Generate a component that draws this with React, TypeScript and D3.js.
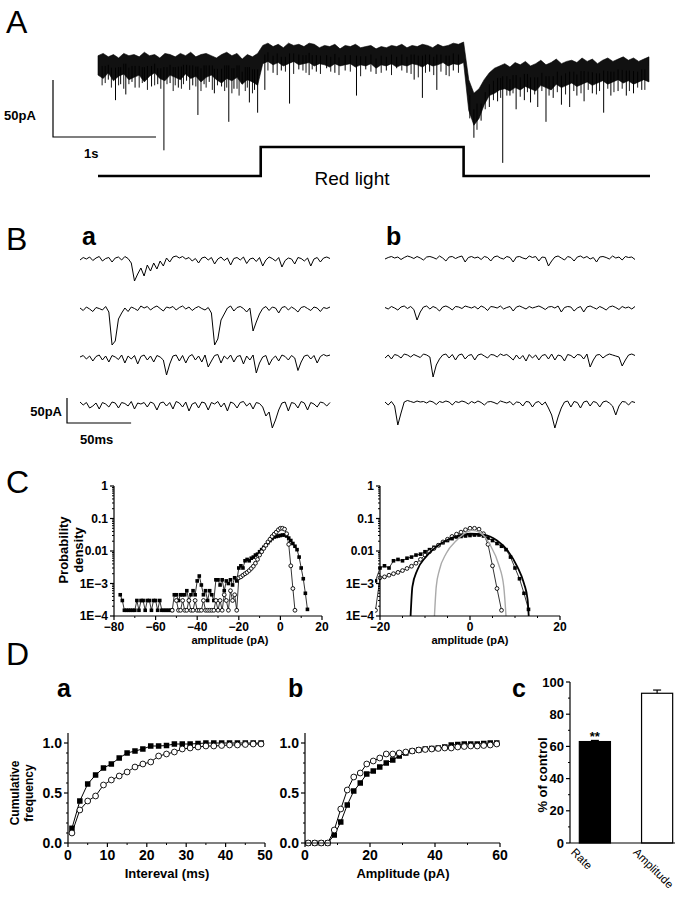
import React from 'react';
import * as d3 from 'd3';

const FONT = "'Liberation Sans', Arial, Helvetica, sans-serif";

// ---------- A: continuous recording, envelope every 50 ms (pA) ----------
const A_DT = 0.05;
const A_END = 5.36;
const aTop = [
  -5, -3, -6, -4, -7, -3, -5, -4, -6, -2, -5, -4, -7, -3, -4, -6, -3, -5, -2, -6, -4, -3, -5, -7, -4, -2, -5, -3, -8, -4, -6, -3,
  4, 6, 3, 5, 2, 6, 4, 5, 3, 6, 5, 2, 4, 3, 5, 1, 4, 3, 5, 2, 3, 4, 1, 3, 2, 4, 3, 5, 2, 4, 3, 5, 4, 2, 5, 3, 4, 6, 5, 7,
  -26, -38, -34, -26, -20, -16, -14, -12, -15, -11, -13, -10, -14, -12, -9, -13, -11, -8, -12, -10, -9, -11, -7, -10, -8, -12, -9, -7, -10, -8, -6, -9, -7, -10, -8, -6,
];
const aBottom = [
  -22, -25, -20, -27, -23, -21, -26, -24, -22, -28, -23, -20, -25, -27, -22, -24, -26, -21, -25, -23, -28, -24, -22, -26, -29, -25, -27, -24, -30, -26, -28, -31,
  -12, -10, -13, -11, -14, -12, -10, -13, -12, -11, -14, -12, -13, -15, -12, -14, -13, -12, -15, -13, -14, -12, -16, -13, -14, -12, -15, -13, -14, -12, -13, -15, -12, -14, -13, -11, -14, -12, -13, -11,
  -53, -66, -60, -48, -40, -38, -35, -34, -36, -33, -35, -32, -34, -36, -31, -33, -35, -30, -33, -31, -29, -32, -30, -28, -31, -29, -27, -30, -28, -26, -29, -27, -30, -28, -26, -28,
];
// large events [time s, peak pA]
const aSpikes: [number, number][] = [
  [0.10, -26], [0.17, -44], [0.22, -30], [0.27, -39], [0.33, -28], [0.36, -33], [0.45, -27], [0.52, -32], [0.58, -30], [0.64, -88],
  [0.70, -29], [0.78, -33], [0.86, -27], [0.92, -31], [0.97, -57], [1.03, -30], [1.08, -28], [1.13, -38], [1.20, -32], [1.27, -63],
  [1.32, -34], [1.40, -30], [1.47, -46], [1.52, -35], [1.55, -55],
  [1.62, -35], [1.70, -20], [1.78, -18], [1.86, -47], [1.95, -17], [2.05, -22], [2.12, -19], [2.22, -16], [2.30, -20], [2.40, -18],
  [2.51, -40], [2.60, -17], [2.70, -21], [2.80, -18], [2.90, -16], [3.00, -20], [3.07, -26], [3.15, -42], [3.22, -19], [3.29, -35],
  [3.38, -22], [3.45, -18],
  [3.65, -77], [3.72, -62], [3.80, -50], [3.88, -45], [3.93, -99], [4.00, -40], [4.06, -52], [4.14, -44], [4.20, -46], [4.27, -50],
  [4.35, -63], [4.42, -42], [4.50, -48], [4.58, -50], [4.65, -40], [4.72, -45], [4.80, -38], [4.91, -55], [4.98, -40], [5.05, -36],
  [5.13, -40], [5.20, -38], [5.28, -35],
];
// small events that make the ragged lower edge
const aSmall: [number, number][] = [
  [0.04, -31], [0.07, -29], [0.13, -33], [0.20, -31], [0.25, -34], [0.30, -30], [0.40, -33], [0.43, -29], [0.48, -35], [0.55, -31],
  [0.61, -34], [0.67, -30], [0.73, -36], [0.75, -31], [0.81, -34], [0.83, -30], [0.89, -35], [0.95, -32], [1.00, -36], [1.05, -33],
  [1.11, -35], [1.16, -31], [1.23, -36], [1.25, -33], [1.30, -38], [1.35, -34], [1.37, -40], [1.43, -36], [1.45, -33], [1.50, -38],
  [1.65, -18], [1.74, -22], [1.82, -19], [1.90, -21], [1.99, -18], [2.02, -20], [2.08, -17], [2.16, -21], [2.26, -19], [2.34, -22],
  [2.45, -19], [2.55, -23], [2.65, -19], [2.75, -20], [2.85, -22], [2.95, -18], [3.04, -21], [3.11, -24], [3.18, -20], [3.26, -22],
  [3.33, -19], [3.41, -23], [3.50, -20],
  [3.61, -60], [3.68, -70], [3.76, -52], [3.84, -44], [3.91, -42], [3.97, -40], [4.03, -38], [4.10, -41], [4.17, -37], [4.24, -39],
  [4.31, -36], [4.38, -40], [4.46, -37], [4.54, -39], [4.62, -36], [4.69, -38], [4.76, -35], [4.84, -39], [4.87, -36], [4.95, -34],
  [5.01, -37], [5.09, -34], [5.16, -36], [5.24, -33], [5.31, -35],
];
const stimulus: [number, number][] = [[0, 0], [1.58, 0], [1.58, 1], [3.55, 1], [3.55, 0], [A_END, 0]];

// ---------- B: sweeps, one sample every 2.5 ms (pA) ----------
const B_DT = 2.5;
const sweepsA = [
  [-2, 3, 0, 4, -3, 2, 5, -4, 1, 3, -6, 2, 4, -2, 5, 1, -8, -44, -30, -18, -34, -12, -24, -8, -20, -4, -14, 2, -6, 4,
    6, 2, 5, 0, 3, -4, 1, -8, 2, 4, -2, 3, -10, 0, 4, -3, 2, -12, 1, 3, -2, 4, -9, 0, 2, -5, 3, -14, -2, 4, 1, -4, 3, -16,
    -3, 2, 0, -10, 3, 1, -4, 2, -14, 0, 3, -6, 2, 4, 1],
  [2, -3, 4, 0, -5, 3, 1, -2, 5, -6, -72, -64, -20, -8, 2, -5, 4, 1, -3, 6, 2, 5, -2, 3, 6, 1, -4, 4, 2, 5,
    -2, 3, 6, 0, 4, -3, 2, 5, 1, -2, 3, -8, -72, -60, -22, -10, 2, 6, -4, 3, 5, 1, -6, 2, -44, -26, -10, 1, 5, -3,
    4, 2, -8, 3, 5, -2, 4, 0, -6, 3, 5, 1, -3, 4, 2, -5, 3, 1, 4],
  [0, 3, -4, 2, -8, 1, 4, -6, 2, -10, 3, 0, -5, 4, -12, 2, -4, 3, -14, 1, 4, -6, 2, -10, 3, 0, -6, -36, -14, 2,
    4, -8, 3, -12, 1, 5, -6, 2, -10, 4, -20, -8, 3, 5, -12, 2, -4, 4, -10, 1, 3, -14, 2, -6, 4, -32, -12, 0, 3, -16,
    -4, 2, -8, 4, 1, -6, 3, -2, -27, -10, 2, 4, -4, 3, -12, 1, 5, 2, 4],
  [4, -2, 3, -8, -4, 2, -10, 3, 0, -6, 4, 2, -8, 3, 1, -4, 5, -10, 2, 0, 3, -6, 4, 1, -12, 2, 4, -4, 3, -10,
    5, 2, -6, 4, -14, 0, 3, -8, 4, 2, -12, 3, 0, 5, -6, 2, -14, 4, 1, -8, 3, 5, -4, 2, -10, 3, 1, -6, -24, -16,
    -48, -32, -12, 2, 4, -14, 3, 1, -8, 5, 2, -12, 3, 0, -6, 4, 2, -4, 3],
];
const sweepsB = [
  [-2, 1, 3, 0, 2, -3, 1, 4, 2, -1, 3, 0, -4, 2, 3, 1, -2, 4, 0, -6, 2, 3, -1, 2, 4, -8, 1, 3, 0, 2,
    -3, 3, 1, -6, 2, 4, 0, -2, 3, 1, -8, 2, 3, 0, -2, 4, 1, 3, -6, 2, 1, -16, -6, 2, 4, 0, -4, 3, 1, -6,
    2, 4, 0, 3, -2, 1, -8, 2, 3, 1, -2, 4, 0, 2, -4, 3, 1, 2, -3],
  [1, -2, 3, 0, -4, 2, 4, -1, 3, -3, -24, -8, 2, 4, -2, 3, 0, -6, 2, 4, 1, -4, 3, 2, -1, 4, 2, 0, 3, -2,
    4, 1, -5, 3, 2, 0, 4, -2, 1, 3, -6, 2, 4, 1, -2, 3, 0, 2, 4, 1, -3, 2, 3, 0, 4, -8, 1, 3, 2, -6,
    0, 3, -8, 2, 4, 1, -2, 3, 0, -4, 2, 4, 1, -3, 3, 0, 2, -2, 3],
  [-4, 2, -6, 3, 1, -4, 4, 2, -2, 3, 0, -3, 4, 2, -2, -42, -18, -6, 2, 4, -4, 3, -8, 2, 4, -6, 1, 3, -8, 2,
    4, 0, -4, 3, 2, -2, 4, 1, 3, -2, -8, 2, -6, 1, -10, 3, -4, 2, -8, 1, 3, -6, 4, -8, 2, 0, -10, 3, 1, -4,
    3, 2, -6, 4, -22, -8, 2, 3, -4, 1, 4, 2, 0, -2, -20, -8, 2, 4, 1],
  [2, -4, 3, -6, -44, -20, 2, 5, 3, 1, 4, 2, 3, 0, 4, 2, -3, 3, 1, 4, 2, -4, 3, 1, 4, 2, -2, 3, 0, 4,
    1, -4, 2, 3, 1, -2, 4, 2, 0, 3, -4, 2, 1, -6, 3, 2, -8, 1, 3, -4, 2, -10, -24, -50, -28, -10, 2, 4, -8, 3,
    1, -10, 2, 4, -6, 3, 1, -8, 2, 4, 0, -6, -24, -6, 3, 2, -4, 3, 1],
];

// ---------- C: amplitude histograms, 1 pA bins ----------
const sqStart = -77;
const sqDensity = [
  4.5e-4, 3e-4, 1.5e-4, 1.5e-4, 1.5e-4, 1.5e-4, 1.5e-4, 1.5e-4,
  3e-4, 1.5e-4, 3e-4, 3e-4, 1.5e-4, 3e-4, 3e-4, 1.5e-4, 3e-4, 3e-4,
  1.5e-4, 3e-4, 1.5e-4, 1.5e-4, 1.5e-4, 1.5e-4, 1.5e-4, 1.5e-4, 4.5e-4, 4.5e-4,
  3e-4, 4.5e-4, 4.5e-4, 4.5e-4, 6e-4, 3e-4, 4.5e-4, 6e-4, 4.5e-4, 1.2e-3,
  1.7e-3, 9e-4, 4.5e-4, 6e-4, 3e-4, 6e-4, 4.5e-4, 3e-4, 1.3e-3, 1.3e-3,
  9e-4, 1.3e-3, 6e-4, 1.2e-3, 1.0e-3, 1.3e-3, 9e-4, 1.5e-3, 1.2e-3, 3e-3,
  3.5e-3, 3e-3, 5e-3, 5.5e-3, 5e-3, 6e-3, 6.5e-3, 7.5e-3, 8e-3, 9.5e-3,
  0.011, 0.013, 0.015, 0.018, 0.021, 0.024, 0.027, 0.028, 0.029, 0.03,
  0.031, 0.031, 0.029, 0.025, 0.021, 0.017, 0.014, 0.011, 6.5e-3, 3e-3,
  1.4e-3, 5e-4, 1.6e-4,
];
const ciStart = -52;
const ciDensity: (number | null)[] = [
  1.5e-4, null, 3e-4, 1.5e-4, 1.5e-4, 3e-4, 1.5e-4, 1.5e-4, 3e-4, 1.5e-4,
  1.5e-4, 3e-4, 1.5e-4, 1.5e-4, 1.5e-4, 3e-4, 1.5e-4, 1.5e-4, 1.5e-4, 1.5e-4,
  1.5e-4, 3e-4, 1.5e-4, 3e-4, 1.5e-4, 4.5e-4, 3e-4, 1.5e-4, 6e-4, 3e-4,
  4.5e-4, 1.5e-4, 1.5e-3, 1.6e-3, 1.8e-3, 2e-3, 2.2e-3, 2.5e-3, 2.9e-3, 3.4e-3,
  4.2e-3, 5.5e-3, 7.5e-3, 9.5e-3, 0.012, 0.015, 0.019, 0.023, 0.028, 0.033,
  0.038, 0.045, 0.05, 0.05, 0.047, 0.034, 0.016, 3.5e-3, 7e-4, 1.5e-4,
];
const fitBlack: [number, number][] = [
  [-13.2, 1e-4], [-12.8, 8e-4], [-11.7, 2.6e-3], [-9.8, 6.6e-3], [-7.5, 0.0134], [-5.3, 0.021], [-2.3, 0.03], [0, 0.034],
  [3, 0.032], [6, 0.021], [8.3, 0.0106], [10.5, 3.3e-3], [12, 1e-3], [12.8, 3.2e-4], [13.05, 1e-4],
];
const fitGray: [number, number][] = [
  [-7.9, 1e-4], [-7.5, 8e-4], [-6.8, 2.6e-3], [-5.3, 8.4e-3], [-3, 0.021], [-0.75, 0.038], [0.4, 0.043], [2.3, 0.036],
  [4.5, 0.015], [6.4, 3.7e-3], [7.5, 8e-4], [8, 1e-4],
];

// ---------- D: cumulative distributions and summary ----------
const intervalMs = [1, 3, 5, 7, 9, 11, 13, 15, 17, 19, 21, 23, 25, 27, 29, 31, 33, 35, 37, 39, 41, 43, 45, 47, 49];
const intervalLight = [0.147, 0.42, 0.59, 0.68, 0.75, 0.79, 0.85, 0.9, 0.92, 0.94, 0.97, 0.97, 0.975, 0.99, 0.99, 0.99, 0.995, 1, 1, 1, 1, 1, 1, 1, 1];
const intervalCtrl = [0.1, 0.33, 0.42, 0.47, 0.58, 0.63, 0.67, 0.71, 0.76, 0.79, 0.81, 0.87, 0.89, 0.91, 0.94, 0.95, 0.96, 0.97, 0.97, 0.975, 0.98, 0.98, 0.985, 0.99, 0.99];
const ampPa = [1, 3, 5, 7, 9, 11, 13, 15, 17, 19, 21, 23, 25, 27, 29, 31, 33, 35, 37, 39, 41, 43, 45, 47, 49, 51, 53, 55, 57, 59];
const ampLight = [0, 0, 0, 0, 0.08, 0.21, 0.38, 0.52, 0.6, 0.69, 0.72, 0.76, 0.8, 0.83, 0.87, 0.9, 0.92, 0.93, 0.94, 0.945, 0.95, 0.96, 0.98, 0.985, 0.99, 0.99, 0.99, 0.995, 1, 1];
const ampCtrl = [0, 0, 0, 0, 0.13, 0.34, 0.53, 0.66, 0.7, 0.79, 0.82, 0.85, 0.89, 0.89, 0.9, 0.91, 0.92, 0.93, 0.935, 0.94, 0.945, 0.95, 0.95, 0.96, 0.965, 0.97, 0.97, 0.975, 0.98, 0.99];
const summaryCats = ['Rate', 'Amplitude'];
const summaryMean = [63, 93];
const summarySem = [0.7, 2];

const bold = { fontFamily: FONT, fontWeight: 700 } as const;

function Square({ x, y, s }: { x: number; y: number; s: number }) {
  return <rect x={x - s / 2} y={y - s / 2} width={s} height={s} fill="#000" />;
}
function Circle({ x, y, r }: { x: number; y: number; r: number }) {
  return <circle cx={x} cy={y} r={r} fill="#fff" stroke="#000" strokeWidth={0.9} />;
}

function YAxis({ x, y, top, bottom, ticks, labels, minor = [], size = 13, len = 4 }: any) {
  return (
    <g>
      <line x1={x} x2={x} y1={y(top)} y2={y(bottom)} stroke="#000" strokeWidth={1.2} />
      {minor.map((t: number, i: number) => (
        <line key={'m' + i} x1={x - 2} x2={x} y1={y(t)} y2={y(t)} stroke="#000" strokeWidth={1} />
      ))}
      {ticks.map((t: number, i: number) => (
        <g key={i}>
          <line x1={x - len} x2={x} y1={y(t)} y2={y(t)} stroke="#000" strokeWidth={1.2} />
          <text x={x - len - 2} y={y(t)} dy="0.36em" textAnchor="end" fontSize={size} {...bold}>{labels[i]}</text>
        </g>
      ))}
    </g>
  );
}

function XAxis({ y, x, left, right, ticks, labels, minor = [], size = 13, len = 4 }: any) {
  return (
    <g>
      <line x1={x(left)} x2={x(right)} y1={y} y2={y} stroke="#000" strokeWidth={1.2} />
      {minor.map((t: number, i: number) => (
        <line key={'m' + i} x1={x(t)} x2={x(t)} y1={y} y2={y + 2} stroke="#000" strokeWidth={1} />
      ))}
      {ticks.map((t: number, i: number) => (
        <g key={i}>
          <line x1={x(t)} x2={x(t)} y1={y} y2={y + len} stroke="#000" strokeWidth={1.2} />
          <text x={x(t)} y={y + len + size * 0.95} textAnchor="middle" fontSize={size} {...bold}>{labels[i]}</text>
        </g>
      ))}
    </g>
  );
}

export default function App() {
  // ----- A -----
  const xA = d3.scaleLinear().domain([0, A_END]).range([98, 650]);
  const yA = d3.scaleLinear().domain([0, -50]).range([50, 107]);
  const band = d3.area<number>()
    .x((_, i) => xA(i * A_DT))
    .y0((_, i) => yA(aBottom[i]))
    .y1((v) => yA(v));
  const mid = (t: number) => {
    const k = Math.min(aTop.length - 1, Math.round(t / A_DT));
    return yA((aTop[k] + aBottom[k]) / 2);
  };
  const yStim = d3.scaleLinear().domain([0, 1]).range([176, 147]);
  const stimLine = d3.line<[number, number]>().x((d) => xA(d[0])).y((d) => yStim(d[1]));
  const barBottom = 137;
  const barTop = barBottom - (yA(-50) - yA(0));

  // ----- B -----
  const xB = d3.scaleLinear().domain([0, 195]).range([0, 250]);
  const yB = d3.scaleLinear().domain([0, -50]).range([0, 25]);
  const rowBase = [259, 309, 357, 404];
  const sweepPath = (vals: number[], x0: number, base: number) =>
    d3.line<number>().x((_, i) => x0 + xB(i * B_DT)).y((v) => base + yB(v))(vals) || '';

  // ----- C -----
  const yC = d3.scaleLog().domain([1e-4, 1]).range([616, 486]);
  const xC1 = d3.scaleLinear().domain([-80, 20]).range([114, 322]);
  const xC2 = d3.scaleLinear().domain([-20, 20]).range([380, 560]);
  const sqPts = sqDensity.map((v, i) => [sqStart + i, v] as [number, number]);
  const ciPts = ciDensity.map((v, i) => [ciStart + i, v] as [number, number | null]);
  const logTicks = [1e-4, 1e-3, 0.01, 0.1, 1];
  const logLabels = ['1E\u22124', '1E\u22123', '0.01', '0.1', '1'];
  const logMinor: number[] = [];
  [1e-4, 1e-3, 1e-2, 1e-1].forEach((d) => [2, 3, 4, 5, 6, 7, 8, 9].forEach((k) => logMinor.push(d * k)));

  const histPanel = (xs: d3.ScaleLinear<number, number>, clipId: string) => {
    const lineSq = d3.line<[number, number]>().x((d) => xs(d[0])).y((d) => yC(d[1]));
    const lineCi = d3.line<[number, number | null]>().defined((d) => d[1] != null).x((d) => xs(d[0])).y((d) => yC(d[1] as number));
    return (
      <g clipPath={`url(#${clipId})`}>
        <path d={lineSq(sqPts) || ''} fill="none" stroke="#000" strokeWidth={0.8} />
        {sqPts.map((d, i) => <Square key={'s' + i} x={xs(d[0])} y={yC(d[1])} s={3.6} />)}
        <path d={lineCi(ciPts) || ''} fill="none" stroke="#000" strokeWidth={0.8} />
        {ciPts.filter((d) => d[1] != null).map((d, i) => <Circle key={'c' + i} x={xs(d[0])} y={yC(d[1] as number)} r={1.9} />)}
      </g>
    );
  };
  const fitLine = d3.line<[number, number]>().x((d) => xC2(d[0])).y((d) => yC(d[1])).curve(d3.curveMonotoneX);

  // ----- D -----
  const yD = d3.scaleLinear().domain([0, 1]).range([843, 743]);
  const xDa = d3.scaleLinear().domain([0, 50]).range([68, 265]);
  const xDb = d3.scaleLinear().domain([0, 60]).range([305, 500]);
  const cumPanel = (xs: d3.ScaleLinear<number, number>, xv: number[], sq: number[], ci: number[]) => {
    const l = d3.line<number>().x((_, i) => xs(xv[i])).y((v) => yD(v));
    return (
      <g>
        <path d={l(sq) || ''} fill="none" stroke="#000" strokeWidth={1} />
        <path d={l(ci) || ''} fill="none" stroke="#000" strokeWidth={1} />
        {sq.map((v, i) => <Square key={'s' + i} x={xs(xv[i])} y={yD(v)} s={5.5} />)}
        {ci.map((v, i) => <Circle key={'c' + i} x={xs(xv[i])} y={yD(v)} r={2.9} />)}
      </g>
    );
  };
  const yDc = d3.scaleLinear().domain([0, 100]).range([843, 682]);
  const xDc = d3.scaleBand<string>().domain(summaryCats).range([570, 682]).paddingInner(0.5).paddingOuter(0.15);

  const letter = { fontFamily: FONT, fontWeight: 400, fontSize: 32 } as const;
  const sub = { fontFamily: FONT, fontWeight: 700, fontSize: 25 } as const;

  return (
    <svg width={675} height={900} style={{ position: 'absolute', left: 0, top: 0, background: '#fff' }}>
      <defs>
        <clipPath id="clipC2"><rect x={375} y={470} width={192} height={148} /></clipPath>
        <clipPath id="clipC1"><rect x={108} y={470} width={220} height={148} /></clipPath>
      </defs>
      <rect width={675} height={900} fill="#fff" />

      {/* ===== A ===== */}
      <text x={6} y={33} {...letter}>A</text>
      <path d={band(aTop) || ''} fill="#111" stroke="#000" strokeWidth={0.6} />
      {aSmall.map(([t, v], i) => (
        <line key={'s' + i} x1={xA(t)} x2={xA(t)} y1={mid(t)} y2={yA(v)} stroke="#000" strokeWidth={0.9} />
      ))}
      {aSpikes.map(([t, v], i) => (
        <line key={i} x1={xA(t)} x2={xA(t)} y1={mid(t)} y2={yA(v)} stroke="#000" strokeWidth={1} />
      ))}
      <path d={`M53,${barTop}V${barBottom}H${53 + xA(1) - xA(0)}`} fill="none" stroke="#000" strokeWidth={1.2} />
      <text x={4} y={120} fontSize={13} {...bold}>50pA</text>
      <text x={84} y={158} fontSize={13} {...bold}>1s</text>
      <path d={stimLine(stimulus) || ''} fill="none" stroke="#000" strokeWidth={2.6} />
      <text x={352} y={185} textAnchor="middle" fontSize={19} fontFamily={FONT}>Red light</text>

      {/* ===== B ===== */}
      <text x={6} y={250} {...letter}>B</text>
      <text x={82} y={245} {...sub}>a</text>
      <text x={386} y={245} {...sub}>b</text>
      {sweepsA.map((s, i) => <path key={'a' + i} d={sweepPath(s, 80, rowBase[i])} fill="none" stroke="#000" strokeWidth={1} />)}
      {sweepsB.map((s, i) => <path key={'b' + i} d={sweepPath(s, 385, rowBase[i] - 1)} fill="none" stroke="#000" strokeWidth={1} />)}
      <path d={`M67,${423 - yB(-50)}V423H${67 + xB(50)}`} fill="none" stroke="#000" strokeWidth={1.2} />
      <text x={62} y={416} textAnchor="end" fontSize={13} {...bold}>50pA</text>
      <text x={80} y={444} fontSize={13} {...bold}>50ms</text>

      {/* ===== C ===== */}
      <text x={6} y={493} {...letter}>C</text>
      <text transform="translate(68,550) rotate(-90)" textAnchor="middle" fontSize={13} {...bold}>Probability</text>
      <text transform="translate(83,550) rotate(-90)" textAnchor="middle" fontSize={13} {...bold}>density</text>
      {histPanel(xC1, 'clipC1')}
      <YAxis x={xC1(-80)} y={yC} top={1} bottom={1e-4} ticks={logTicks} labels={logLabels} minor={logMinor} size={12} />
      <XAxis y={yC(1e-4)} x={xC1} left={-80} right={20} ticks={[-80, -60, -40, -20, 0, 20]}
        labels={['\u221280', '\u221260', '\u221240', '\u221220', '0', '20']} minor={[-70, -50, -30, -10, 10]} size={12} />
      <text x={230} y={644} textAnchor="middle" fontSize={11} {...bold}>amplitude (pA)</text>

      {histPanel(xC2, 'clipC2')}
      <g clipPath="url(#clipC2)">
        <path d={fitLine(fitBlack) || ''} fill="none" stroke="#000" strokeWidth={1.8} />
        <path d={fitLine(fitGray) || ''} fill="none" stroke="#aaa" strokeWidth={1.4} />
      </g>
      <YAxis x={xC2(-20)} y={yC} top={1} bottom={1e-4} ticks={logTicks} labels={logLabels} minor={logMinor} size={12} />
      <XAxis y={yC(1e-4)} x={xC2} left={-20} right={20} ticks={[-20, 0, 20]}
        labels={['\u221220', '0', '20']} minor={[-15, -10, -5, 5, 10, 15]} size={12} />
      <text x={470} y={644} textAnchor="middle" fontSize={11} {...bold}>amplitude (pA)</text>

      {/* ===== D ===== */}
      <text x={6} y={665} {...letter}>D</text>
      <text x={57} y={697} {...sub}>a</text>
      <text x={288} y={697} {...sub}>b</text>
      <text x={512} y={697} {...sub}>c</text>

      <text transform="translate(19,793) rotate(-90)" textAnchor="middle" fontSize={12} {...bold}>Cumulative</text>
      <text transform="translate(33,793) rotate(-90)" textAnchor="middle" fontSize={12} {...bold}>frequency</text>
      {cumPanel(xDa, intervalMs, intervalLight, intervalCtrl)}
      <YAxis x={xDa(0)} y={yD} top={1.1} bottom={0} ticks={[0, 0.5, 1]} labels={['0.0', '0.5', '1.0']}
        minor={[0.1, 0.2, 0.3, 0.4, 0.6, 0.7, 0.8, 0.9]} size={14} />
      <XAxis y={yD(0)} x={xDa} left={0} right={50} ticks={[0, 10, 20, 30, 40, 50]} labels={['0', '10', '20', '30', '40', '50']}
        minor={[5, 15, 25, 35, 45]} size={14} />
      <text x={167} y={878} textAnchor="middle" fontSize={13} {...bold}>Intereval (ms)</text>

      {cumPanel(xDb, ampPa, ampLight, ampCtrl)}
      <YAxis x={xDb(0)} y={yD} top={1.1} bottom={0} ticks={[0, 0.5, 1]} labels={['0.0', '0.5', '1.0']}
        minor={[0.1, 0.2, 0.3, 0.4, 0.6, 0.7, 0.8, 0.9]} size={14} />
      <XAxis y={yD(0)} x={xDb} left={0} right={60} ticks={[0, 20, 40, 60]} labels={['0', '20', '40', '60']}
        minor={[10, 30, 50]} size={14} />
      <text x={403} y={878} textAnchor="middle" fontSize={13} {...bold}>Amplitude (pA)</text>

      <text transform="translate(547,775) rotate(-90)" textAnchor="middle" fontSize={13} {...bold}>% of control</text>
      {summaryCats.map((c, i) => {
        const x0 = xDc(c) as number;
        const w = xDc.bandwidth();
        const cx = x0 + w / 2;
        return (
          <g key={c}>
            <rect x={x0} y={yDc(summaryMean[i])} width={w} height={yDc(0) - yDc(summaryMean[i])}
              fill={i === 0 ? '#000' : '#fff'} stroke="#000" strokeWidth={1.2} />
            <line x1={cx} x2={cx} y1={yDc(summaryMean[i])} y2={yDc(summaryMean[i] + summarySem[i])} stroke="#000" strokeWidth={1.2} />
            <line x1={cx - 4} x2={cx + 4} y1={yDc(summaryMean[i] + summarySem[i])} y2={yDc(summaryMean[i] + summarySem[i])} stroke="#000" strokeWidth={1.2} />
            <text transform={`translate(${x0 - 9},${853}) rotate(45)`} fontSize={11.5} fontFamily={FONT}>{c}</text>
          </g>
        );
      })}
      <text x={(xDc('Rate') as number) + xDc.bandwidth() / 2} y={741} textAnchor="middle" fontSize={13} {...bold}>**</text>
      <YAxis x={570} y={yDc} top={100} bottom={0} ticks={[0, 20, 40, 60, 80, 100]} labels={['0', '20', '40', '60', '80', '100']}
        minor={[10, 30, 50, 70, 90]} size={13} />
      <line x1={570} x2={675} y1={yDc(0)} y2={yDc(0)} stroke="#000" strokeWidth={1.2} />
    </svg>
  );
}
